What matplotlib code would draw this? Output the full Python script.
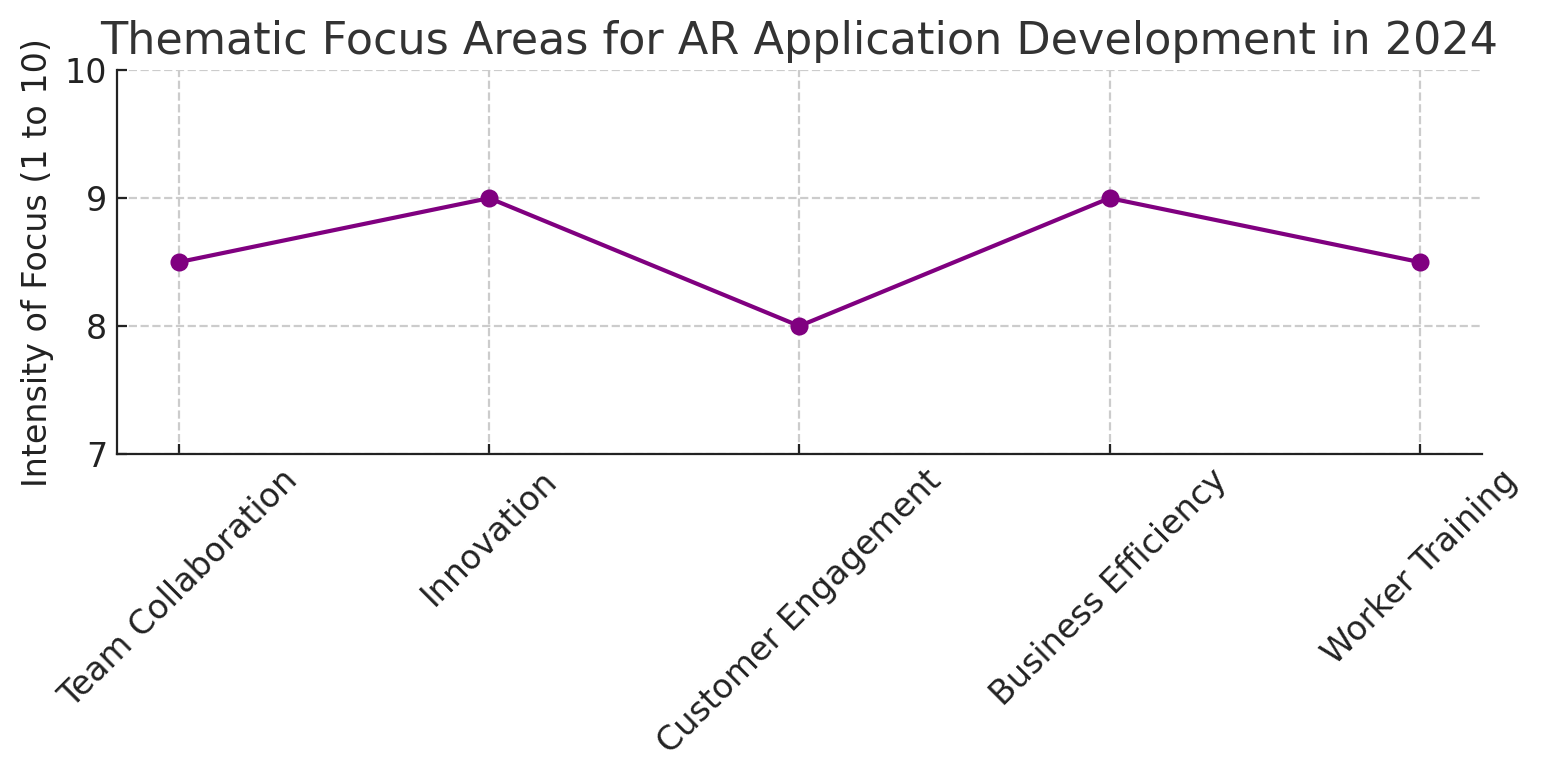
import matplotlib
matplotlib.use("Agg")
from matplotlib import pyplot as plt

# data
themes = ["Team Collaboration", "Innovation", "Customer Engagement",
          "Business Efficiency", "Worker Training"]
intensity = [8.5, 9, 8, 9, 8.5]

fig = plt.figure(figsize=(7.71, 3.9), dpi=200)
ax = fig.add_axes([0.0759, 0.418, 0.885, 0.492])

ax.plot(themes, intensity, marker="o", color="purple", linewidth=1.5, markersize=5.5)

ax.set_ylim(7, 10)
ax.set_yticks([7, 8, 9, 10])
ax.set_title("Thematic Focus Areas for AR Application Development in 2024",
             fontsize=16, color="#333333", pad=6)
ax.set_ylabel("Intensity of Focus (1 to 10)", fontsize=12, color="#222222")
ax.tick_params(axis="both", labelsize=12, colors="#222222", length=3.5,
               direction="in")
plt.xticks(rotation=45, ha="center", rotation_mode="default")

ax.grid(True, linestyle="--", color="#cccccc", linewidth=0.8)
for side in ["top", "right"]:
    ax.spines[side].set_visible(False)
for side in ["left", "bottom"]:
    ax.spines[side].set_color("#222222")

fig.savefig("out.png", dpi=200)
